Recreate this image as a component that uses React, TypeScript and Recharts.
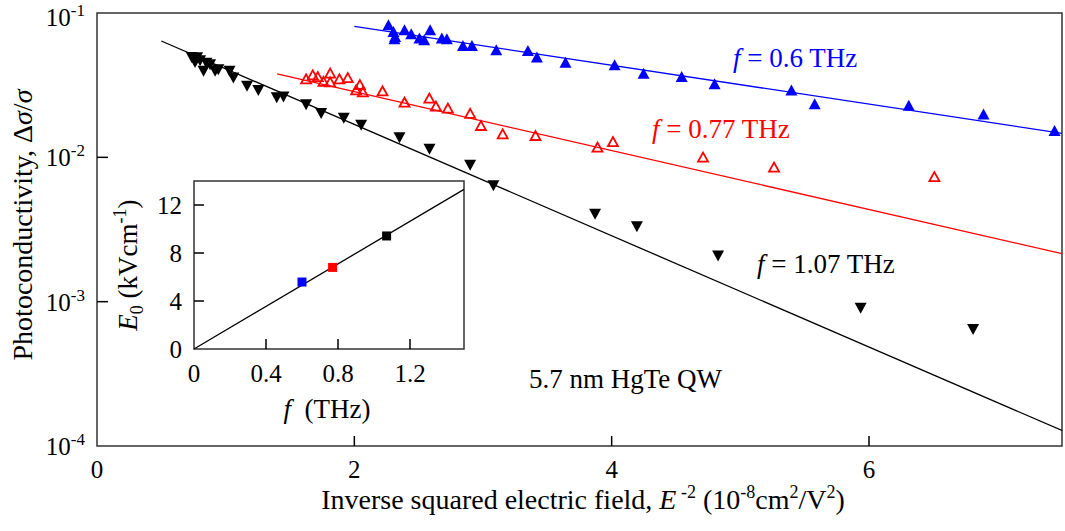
import { ScatterChart, Scatter, XAxis, YAxis, ReferenceArea } from "recharts";

const FONT = "Liberation Serif, Tinos, DejaVu Serif, Times New Roman, serif";

// E^-2 (1e-8 cm^2/V^2) vs photoconductivity, f = 0.6 THz
const points06: [number, number][] = [
  [2.265, 0.0822], [2.304, 0.0738], [2.312, 0.0658], [2.317, 0.0682], [2.39, 0.0759],
  [2.442, 0.0712], [2.506, 0.0665], [2.543, 0.0647], [2.589, 0.0759], [2.68, 0.0665],
  [2.719, 0.0658], [2.844, 0.0591], [2.914, 0.0591], [3.103, 0.0551], [3.349, 0.0545],
  [3.419, 0.0491], [3.641, 0.0453], [4.023, 0.0434], [4.248, 0.038], [4.544, 0.036],
  [4.8, 0.0321], [5.397, 0.0291], [5.578, 0.0233], [6.309, 0.0228], [6.89, 0.0198],
  [7.442, 0.0152],
];

// f = 0.77 THz
const points077: [number, number][] = [
  [1.625, 0.0347], [1.677, 0.037], [1.716, 0.036], [1.76, 0.0333], [1.812, 0.038],
  [1.812, 0.0331], [1.884, 0.0347], [1.949, 0.0354], [2.043, 0.0317], [2.014, 0.0291],
  [2.066, 0.0282], [2.219, 0.0286], [2.39, 0.0239], [2.583, 0.0255], [2.634, 0.02246],
  [2.727, 0.02175], [2.9, 0.02], [2.984, 0.01648], [3.153, 0.01443], [3.408, 0.01405],
  [3.89, 0.01167], [4.01, 0.01276], [4.71, 0.00996], [5.262, 0.00848], [6.508, 0.0073],
];

// f = 1.07 THz
const points107: [number, number][] = [
  [0.736, 0.0496], [0.762, 0.0457], [0.778, 0.0493], [0.801, 0.047], [0.828, 0.0398],
  [0.85, 0.0452], [0.879, 0.0441], [0.918, 0.0398], [0.943, 0.0407], [1.03, 0.0398],
  [1.06, 0.0358], [1.166, 0.0313], [1.254, 0.0293], [1.397, 0.0261], [1.449, 0.0264],
  [1.625, 0.0233], [1.742, 0.0203], [1.918, 0.0188], [2.053, 0.01685], [2.351, 0.01376],
  [2.584, 0.01149], [2.9, 0.0089], [3.081, 0.0064], [3.871, 0.00407], [4.196, 0.00333],
  [4.827, 0.00209], [5.935, 0.000909], [6.809, 0.000646],
];

// exponential fits, drawn as straight lines on the log axis
const fit06: [number, number][] = [[2.0, 0.0809], [7.5, 0.01466]];
const fit077: [number, number][] = [[1.4, 0.0378], [7.5, 0.00215]];
const fit107: [number, number][] = [[0.5, 0.064], [7.5, 0.000128]];

const xTicks = [0, 2, 4, 6];
const yTicks = [1e-4, 1e-3, 1e-2, 1e-1];

// inset: characteristic field E0 vs frequency
const freqs = [0.6, 0.77, 1.07];
const e0Values = [5.58, 6.8, 9.42];
const e0Colors = ["#0000ff", "#ff0000", "#000000"];
const e0Fit: [number, number][] = [[0, 0], [1.5, 13.3]];
const insetXTicks = [0, 0.4, 0.8, 1.2];
const insetYTicks = [0, 4, 8, 12];

const toXY = (pts: [number, number][]) => pts.map(([x, y]) => ({ x, y }));

const UpTriangle = (color: string) => (p: any) => (
  <polygon
    points={`${p.cx - 6},${p.cy + 5} ${p.cx + 6},${p.cy + 5} ${p.cx},${p.cy - 6}`}
    fill={color}
  />
);

const OpenTriangle = (color: string) => (p: any) => (
  <polygon
    points={`${p.cx - 5},${p.cy + 4} ${p.cx + 5},${p.cy + 4} ${p.cx},${p.cy - 5}`}
    fill="none"
    stroke={color}
    strokeWidth={1.8}
  />
);

const DownTriangle = (color: string) => (p: any) => (
  <polygon
    points={`${p.cx - 6},${p.cy - 5} ${p.cx + 6},${p.cy - 5} ${p.cx},${p.cy + 6}`}
    fill={color}
  />
);

const NoMarker = () => <g />;

const LogTick = (props: any) => {
  const { x, y, payload } = props;
  const exp = Math.round(Math.log10(payload.value));
  const edge = exp === -1 || exp === -4;
  // the top label sits a little lower so its exponent stays on the page
  const dy = exp === -1 ? 13 : 9;
  return (
    <g>
      {!edge && <line x1={x} y1={y} x2={x + 11} y2={y} stroke="#000" strokeWidth={1.5} />}
      <text x={x - 12} y={y + dy} textAnchor="end" style={{ fontFamily: FONT }} fontSize={25} fill="#000">
        10<tspan dy={-10} fontSize={17}>{exp}</tspan>
      </text>
    </g>
  );
};

const MainXTick = (props: any) => {
  const { x, y, payload } = props;
  return (
    <g>
      {payload.value !== 0 && <line x1={x} y1={y} x2={x} y2={y - 10} stroke="#000" strokeWidth={1.5} />}
      <text x={x} y={y + 32} textAnchor="middle" style={{ fontFamily: FONT }} fontSize={25} fill="#000">
        {payload.value}
      </text>
    </g>
  );
};

const InsetXTick = (props: any) => {
  const { x, y, payload } = props;
  return (
    <g>
      {payload.value !== 0 && <line x1={x} y1={y} x2={x} y2={y - 10} stroke="#000" strokeWidth={1.5} />}
      <text x={x} y={y + 33} textAnchor="middle" style={{ fontFamily: FONT }} fontSize={25} fill="#000">
        {payload.value}
      </text>
    </g>
  );
};

const InsetYTick = (props: any) => {
  const { x, y, payload } = props;
  return (
    <g>
      {payload.value !== 0 && <line x1={x} y1={y} x2={x + 10} y2={y} stroke="#000" strokeWidth={1.5} />}
      <text x={x - 12} y={y + 9} textAnchor="end" style={{ fontFamily: FONT }} fontSize={25} fill="#000">
        {payload.value}
      </text>
    </g>
  );
};

export default function App() {
  const insetPoints = freqs.map((f, i) => ({ x: f, y: e0Values[i], color: e0Colors[i] }));

  return (
    <div style={{ position: "absolute", left: 0, top: 0, width: 1065, height: 531, background: "#fff", fontFamily: FONT }}>
      <ScatterChart width={1065} height={531} margin={{ top: 13, right: 3, left: 0, bottom: 0 }}>
        <XAxis
          type="number"
          dataKey="x"
          domain={[0, 7.5]}
          ticks={xTicks}
          height={85}
          axisLine={false}
          tickLine={false}
          tickSize={0}
          tickMargin={0}
          tick={<MainXTick />}
          allowDataOverflow
        />
        <YAxis
          type="number"
          dataKey="y"
          scale="log"
          domain={[1e-4, 1e-1]}
          ticks={yTicks}
          width={97}
          axisLine={false}
          tickLine={false}
          tickSize={0}
          tickMargin={0}
          tick={<LogTick />}
          allowDataOverflow
        />
        <ReferenceArea x1={0} x2={7.5} y1={1e-4} y2={1e-1} fill="none" stroke="#333" strokeWidth={1.5} />
        <Scatter data={toXY(fit107)} line={{ stroke: "#000", strokeWidth: 1.3 }} shape={NoMarker} isAnimationActive={false} />
        <Scatter data={toXY(fit077)} line={{ stroke: "#ff0000", strokeWidth: 1.3 }} shape={NoMarker} isAnimationActive={false} />
        <Scatter data={toXY(fit06)} line={{ stroke: "#0000ff", strokeWidth: 1.3 }} shape={NoMarker} isAnimationActive={false} />
        <Scatter data={toXY(points107)} shape={DownTriangle("#000")} isAnimationActive={false} />
        <Scatter data={toXY(points077)} shape={OpenTriangle("#ff0000")} isAnimationActive={false} />
        <Scatter data={toXY(points06)} shape={UpTriangle("#0000ff")} isAnimationActive={false} />
      </ScatterChart>

      <div style={{ position: "absolute", left: 110, top: 175 }}>
        <ScatterChart width={360} height={260} margin={{ top: 6, right: 6, left: 0, bottom: 0 }}>
          <XAxis
            type="number"
            dataKey="x"
            domain={[0, 1.5]}
            ticks={insetXTicks}
            height={86}
            axisLine={false}
            tickLine={false}
            tickSize={0}
            tickMargin={0}
            tick={<InsetXTick />}
          />
          <YAxis
            type="number"
            dataKey="y"
            domain={[0, 14]}
            ticks={insetYTicks}
            width={84}
            axisLine={false}
            tickLine={false}
            tickSize={0}
            tickMargin={0}
            tick={<InsetYTick />}
          />
          <ReferenceArea x1={0} x2={1.5} y1={0} y2={14} fill="none" stroke="#333" strokeWidth={1.5} />
          <Scatter data={toXY(e0Fit)} line={{ stroke: "#000", strokeWidth: 1.3 }} shape={NoMarker} isAnimationActive={false} />
          <Scatter
            data={insetPoints}
            shape={(p: any) => (
              <rect x={p.cx - 4.5} y={p.cy - 4.5} width={9} height={9} fill={p.payload.color} />
            )}
            isAnimationActive={false}
          />
        </ScatterChart>
      </div>

      {/* axis titles and annotations */}
      <svg
        width={1065}
        height={531}
        style={{ position: "absolute", left: 0, top: 0, pointerEvents: "none", fontFamily: FONT }}
      >
        <text x={583} y={509} textAnchor="middle" fontSize={28} fill="#000">
          Inverse squared electric field, <tspan fontStyle="italic">E</tspan>
          <tspan dy={-11} fontSize={18}> -2</tspan>
          <tspan dy={11}> (10</tspan>
          <tspan dy={-11} fontSize={18}>-8</tspan>
          <tspan dy={11}>cm</tspan>
          <tspan dy={-11} fontSize={18}>2</tspan>
          <tspan dy={11}>/V</tspan>
          <tspan dy={-11} fontSize={18}>2</tspan>
          <tspan dy={11}>)</tspan>
        </text>
        <text x={32} y={225} textAnchor="middle" fontSize={28} fill="#000" transform="rotate(-90 32 225)">
          Photoconductivity, Δ<tspan fontStyle="italic">σ</tspan>/<tspan fontStyle="italic">σ</tspan>
        </text>

        <text x={137} y={265} textAnchor="middle" fontSize={27} fill="#000" transform="rotate(-90 137 265)">
          <tspan fontStyle="italic">E</tspan>
          <tspan dy={6} fontSize={18}>0</tspan>
          <tspan dy={-6}> (kVcm</tspan>
          <tspan dy={-11} fontSize={18}>-1</tspan>
          <tspan dy={11}>)</tspan>
        </text>
        <text x={327} y={418} textAnchor="middle" fontSize={27} fill="#000" xmlSpace="preserve">
          <tspan fontStyle="italic">f</tspan>{"  (THz)"}
        </text>

        <text x={733} y={67} fontSize={27} fill="#0000ff">
          <tspan fontStyle="italic">f</tspan> = 0.6 THz
        </text>
        <text x={652} y={138} fontSize={27} fill="#ff0000">
          <tspan fontStyle="italic">f</tspan> = 0.77 THz
        </text>
        <text x={757} y={273} fontSize={27} fill="#000">
          <tspan fontStyle="italic">f</tspan> = 1.07 THz
        </text>
        <text x={529} y={388} fontSize={27} fill="#000">
          5.7 nm HgTe QW
        </text>
      </svg>
    </div>
  );
}
